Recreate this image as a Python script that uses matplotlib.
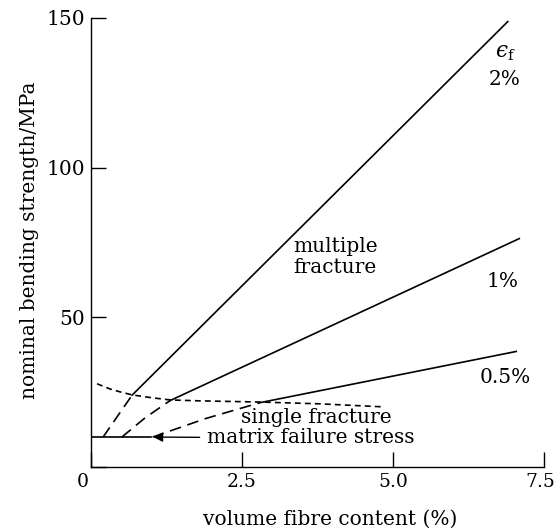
import matplotlib
matplotlib.use("Agg")
import matplotlib.pyplot as plt
import matplotlib.transforms as mtransforms

plt.rcParams['font.family'] = ['DejaVu Serif']
plt.rcParams['mathtext.fontset'] = 'dejavuserif'

# matrix failure stress level
matrix_x = [0.0, 1.0]
matrix_y = [10.0, 10.0]

# fibre failure strain 2 %
eps2_dash_x = [0.2, 0.68]
eps2_dash_y = [10.0, 24.0]
eps2_x = [0.68, 6.9]
eps2_y = [24.0, 148.8]

# 1 %
eps1_dash_x = [0.51, 0.9, 1.31]
eps1_dash_y = [10.0, 16.5, 22.2]
eps1_x = [1.31, 7.09]
eps1_y = [22.2, 76.3]

# 0.5 %
eps05_dash_x = [1.02, 1.9, 2.8]
eps05_dash_y = [10.0, 16.2, 21.5]
eps05_x = [2.8, 7.04]
eps05_y = [21.5, 38.6]

# single / multiple fracture boundary
bound_x = [0.1, 0.31, 0.48, 0.68, 0.98, 1.31, 1.8, 2.8, 3.79, 4.83]
bound_y = [27.8, 26.1, 25.1, 24.1, 23.2, 22.4, 22.1, 21.7, 21.1, 20.1]

x_ticks = [0, 2.5, 5.0, 7.5]
x_labels = ['', '2.5', '5.0', '7.5']
y_ticks = [0, 50, 100, 150]
y_labels = ['', '50', '100', '150']

fs = 14.5

fig = plt.figure(figsize=(5.57, 5.29), dpi=100)
ax = fig.add_axes([0.1634, 0.1172, 0.8133, 0.8488])

lw = 1.2
ax.plot(matrix_x, matrix_y, color='black', lw=lw)
for dx, dy, sx, sy in [(eps2_dash_x, eps2_dash_y, eps2_x, eps2_y),
                       (eps1_dash_x, eps1_dash_y, eps1_x, eps1_y),
                       (eps05_dash_x, eps05_dash_y, eps05_x, eps05_y)]:
    ax.plot(dx, dy, color='black', lw=lw, dashes=(7, 4))
    ax.plot(sx, sy, color='black', lw=lw)
ax.plot(bound_x, bound_y, color='black', lw=lw, dashes=(3.5, 2.5))

ax.set_xlim(0, 7.5)
ax.set_ylim(0, 150)
ax.spines['top'].set_visible(False)
ax.spines['right'].set_visible(False)
for s in ['left', 'bottom']:
    ax.spines[s].set_linewidth(1.0)
ax.set_xticks(x_ticks)
ax.set_xticklabels(x_labels)
ax.set_yticks(y_ticks)
ax.set_yticklabels(y_labels)
ax.tick_params(direction='in', length=10.5, width=1.0, labelsize=fs)
ax.tick_params(axis='x', pad=4, labelsize=13.5)
ax.tick_params(axis='y', pad=4)
# last x label sits at the figure edge, nudge it in a little
last = ax.get_xticklabels()[-1]
last.set_transform(last.get_transform() +
                   mtransforms.ScaledTranslation(-4 / 100, 0, fig.dpi_scale_trans))
ax.text(-0.14, -4.9, '0', fontsize=13.5, ha='center', va='center')

ax.text(0.528, -0.116, 'volume fibre content (%)', fontsize=fs,
        ha='center', va='center', transform=ax.transAxes)
ax.text(-0.135, 0.506, 'nominal bending strength/MPa', fontsize=fs,
        rotation=90, ha='center', va='center', transform=ax.transAxes)

ax.text(6.86, 138.8, r'$ϵ_{\rm f}$', fontsize=fs + 1, ha='center', va='center')
ax.text(6.84, 129.4, '2%', fontsize=fs, ha='center', va='center')
ax.text(6.82, 61.9, '1%', fontsize=fs, ha='center', va='center')
ax.text(6.85, 29.8, '0.5%', fontsize=fs, ha='center', va='center')
ax.text(3.34, 70.2, 'multiple\nfracture', fontsize=fs, ha='left', va='center',
        linespacing=1.1)
ax.text(3.73, 16.4, 'single fracture', fontsize=fs, ha='center', va='center')
ax.annotate('matrix failure stress', xy=(1.03, 10), xytext=(3.63, 9.7),
            fontsize=fs, ha='center', va='center',
            arrowprops=dict(arrowstyle='-|>', color='black', lw=1.0,
                            mutation_scale=14, shrinkA=3, shrinkB=0))

fig.savefig('out.png', dpi=100)
